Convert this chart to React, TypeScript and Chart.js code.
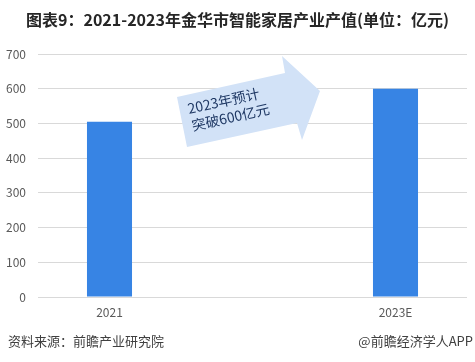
import React, { useEffect, useRef } from "react";
import { Chart, registerables } from "chart.js";

Chart.register(...registerables);

const categories = ["2021", "", "2023E"];
const outputValues = [505, null, 600];
const yTicks = [0, 100, 200, 300, 400, 500, 600, 700];
const titleText = "图表9：2021-2023年金华市智能家居产业产值(单位：亿元)";
const sourceText = "资料来源：前瞻产业研究院";
const brandText = "@前瞻经济学人APP";
const arrowLines = ["2023年预计", "突破600亿元"];

const FONT = "'Noto Sans CJK SC', 'Noto Sans', sans-serif";

const decorPlugin = {
  id: "decor",
  beforeDatasetsDraw(chart: any) {
    const ctx = chart.ctx;
    const a = chart.chartArea;
    // arrow annotation, positioned relative to chart area
    const ox = a.left;
    const oy = a.top;
    const pts = [
      [177, 97],
      [285, 73],
      [282, 56],
      [320, 91],
      [302, 140],
      [297, 123],
      [187, 147],
    ];
    ctx.save();
    ctx.fillStyle = "#d2e2f7";
    ctx.beginPath();
    pts.forEach(([x, y], i) => {
      const px = ox + (x - 38);
      const py = oy + (y - 54);
      if (i === 0) ctx.moveTo(px, py);
      else ctx.lineTo(px, py);
    });
    ctx.closePath();
    ctx.fill();

    ctx.fillStyle = "#1f3864";
    ctx.font = `14px ${FONT}`;
    ctx.textBaseline = "alphabetic";
    ctx.textAlign = "left";
    const ang = (-12.5 * Math.PI) / 180;
    const starts = [
      [189, 114],
      [193, 131],
    ];
    arrowLines.forEach((t, i) => {
      ctx.save();
      ctx.translate(ox + (starts[i][0] - 38), oy + (starts[i][1] - 54));
      ctx.rotate(ang);
      ctx.fillText(t, 0, 0);
      ctx.restore();
    });
    ctx.restore();
  },
  afterDraw(chart: any) {
    const ctx = chart.ctx;
    const w = chart.width;
    ctx.save();
    ctx.fillStyle = "#262626";
    ctx.font = `bold 16px ${FONT}`;
    ctx.textAlign = "center";
    ctx.textBaseline = "middle";
    ctx.fillText(titleText, w / 2, 20);

    ctx.fillStyle = "#404040";
    ctx.font = `13px ${FONT}`;
    ctx.textAlign = "left";
    ctx.fillText(sourceText, 8, 341);
    ctx.textAlign = "right";
    ctx.fillText(brandText, w - 2, 341);
    ctx.restore();
  },
};

export default function App() {
  const ref = useRef<HTMLCanvasElement>(null);

  useEffect(() => {
    if (!ref.current) return;
    const chart = new Chart(ref.current, {
      type: "bar",
      data: {
        labels: categories,
        datasets: [
          {
            data: outputValues as any,
            backgroundColor: "#3784e4",
            barPercentage: 0.315,
            categoryPercentage: 1,
          },
        ],
      },
      options: {
        responsive: false,
        animation: false,
        layout: { padding: { top: 54, right: 8, bottom: 0, left: 0 } },
        plugins: {
          legend: { display: false },
          tooltip: { enabled: false },
          title: { display: false },
        },
        scales: {
          x: {
            grid: { display: false, drawTicks: false },
            border: { display: false },
            ticks: {
              color: "#595959",
              font: { family: FONT, size: 12 },
              padding: 8,
            },
            afterFit(scale: any) {
              scale.height = 65;
            },
          },
          y: {
            min: 0,
            max: 700,
            afterBuildTicks(scale: any) {
              scale.ticks = yTicks.map((v) => ({ value: v }));
            },
            grid: { color: "#d9d9d9", drawTicks: false },
            border: { display: false },
            ticks: {
              color: "#595959",
              font: { family: FONT, size: 12 },
              padding: 12,
            },
            afterFit(scale: any) {
              scale.width = 38;
            },
          },
        },
      },
      plugins: [decorPlugin],
    });
    return () => chart.destroy();
  }, []);

  return (
    <div style={{ position: "fixed", left: 0, top: 0, width: 475, height: 362, background: "#fff" }}>
      <canvas ref={ref} width={475} height={362} style={{ display: "block" }} />
    </div>
  );
}
